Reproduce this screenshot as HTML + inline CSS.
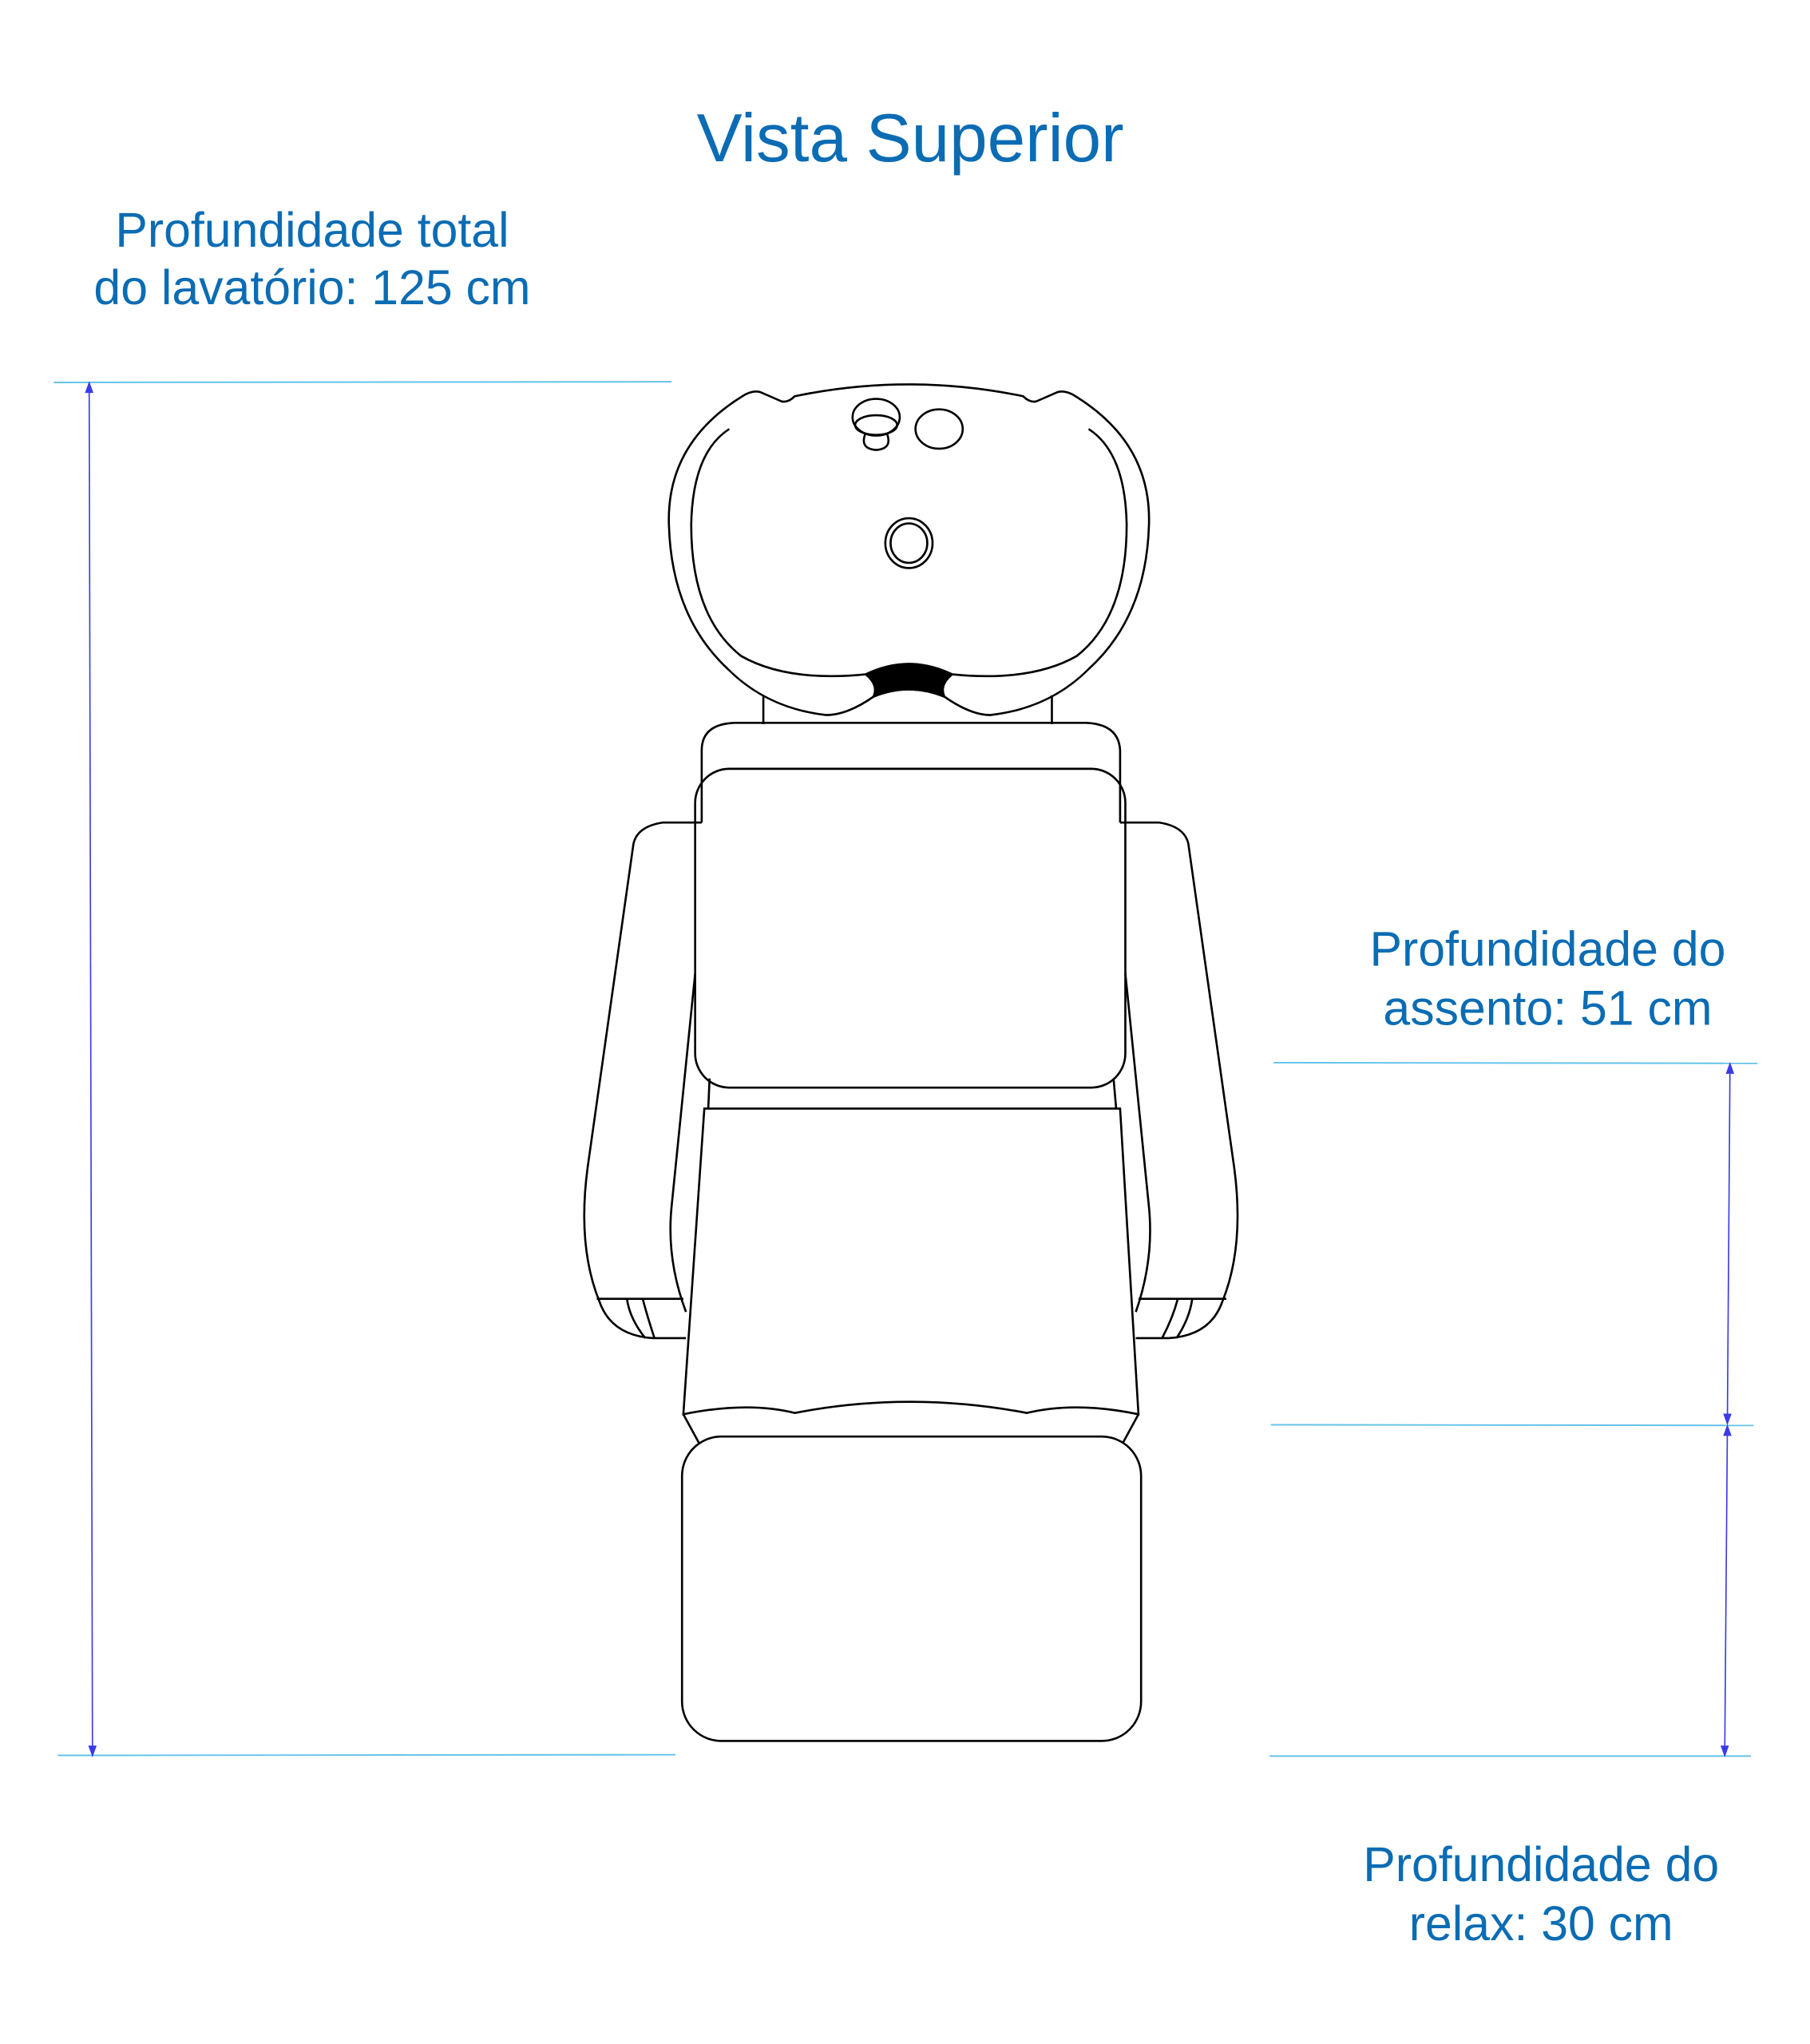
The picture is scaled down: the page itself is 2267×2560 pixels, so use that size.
<!DOCTYPE html>
<html><head><meta charset="utf-8"><style>html,body{margin:0;padding:0;background:#fff}svg{display:block}</style></head>
<body>
<svg width="2267" height="2560" viewBox="0 0 1380 1558" preserveAspectRatio="none" xmlns="http://www.w3.org/2000/svg">
<g font-family="Liberation Sans, sans-serif" fill="#0b6cb3" text-anchor="middle">
<text x="694" y="123" font-size="52">Vista Superior</text>
<text x="238" y="188" font-size="37">Profundidade total</text>
<text x="238" y="232" font-size="37">do lavatório: 125 cm</text>
<text x="1180" y="736" font-size="37">Profundidade do</text>
<text x="1180" y="781" font-size="37">assento: 51 cm</text>
<text x="1175" y="1434" font-size="37">Profundidade do</text>
<text x="1175" y="1479" font-size="37">relax: 30 cm</text>
</g>
<g stroke="#63c3ea" stroke-width="1.2">
<line x1="41" y1="291.5" x2="512" y2="291"/>
<line x1="44" y1="1338" x2="515" y2="1337.5"/>
<line x1="971" y1="810" x2="1340" y2="810.5"/>
<line x1="969" y1="1086" x2="1337" y2="1086.5"/>
<line x1="968" y1="1338.5" x2="1335" y2="1338.5"/>
</g>
<g stroke="#3b3be6" stroke-width="1" fill="#3b3be6">
<line x1="68" y1="294" x2="70.5" y2="1336"/>
<path d="M68 292 L65.5 299 L70.5 299Z"/><path d="M70.5 1338 L68 1331 L73 1331Z"/>
<line x1="1319" y1="813" x2="1317" y2="1084"/>
<path d="M1319 811 L1316.5 818 L1321.5 818Z"/><path d="M1317 1085 L1314.5 1078 L1319.5 1078Z"/>
<line x1="1317" y1="1089" x2="1315" y2="1336"/>
<path d="M1317 1087 L1314.5 1094 L1319.5 1094Z"/><path d="M1315 1338 L1312.5 1331 L1317.5 1331Z"/>
</g>
<g fill="none" stroke="#000" stroke-width="1.6">
<path d="M606 302 Q693 284 780 302 Q785 307 790 306 L806 299 Q812 297 820 302 Q878 338 876 400 Q874 470 830 510 Q800 540 755 545 Q740 545 720 531 Q693 520 666 531 Q646 545 630 545 Q585 540 555 510 Q512 470 510 400 Q508 338 566 302 Q574 297 580 299 L596 306 Q601 307 606 302Z"/>
<path d="M556 327 Q528 345 527 400 Q527 470 565 500 Q600 520 660 514"/>
<path d="M830 327 Q858 345 859 400 Q859 470 821 500 Q786 520 726 514"/>
<path d="M660 514 Q693 498 726 514 Q716 522 720 531 Q693 520 666 531 Q670 522 660 514Z" fill="#000"/>
<ellipse cx="668" cy="318" rx="18" ry="14"/>
<ellipse cx="668" cy="324" rx="16" ry="7.5"/>
<path d="M660 330 Q655 342 668 343 Q681 342 676 330"/>
<ellipse cx="716" cy="327" rx="18" ry="15"/>
<ellipse cx="693" cy="414" rx="18" ry="19"/>
<ellipse cx="693" cy="414" rx="14" ry="15"/>
<line x1="582" y1="530" x2="582" y2="552"/>
<line x1="802" y1="530" x2="802" y2="552"/>
<path d="M535 627 L535 572 Q535 552 560 551 L828 551 Q853 552 854 572 L854 627"/>
<rect x="530" y="586" width="328" height="243" rx="26"/>
<line x1="541" y1="822" x2="540" y2="845"/><line x1="849" y1="822" x2="851" y2="845"/>
<path d="M535 627 L505 627 Q486 630 483 643 L448 890 Q440 950 457 992 Q466 1018 498 1020 L523 1020"/>
<path d="M530 742 L512 920 Q508 960 523 1000"/>
<line x1="455" y1="990" x2="521" y2="990"/>
<path d="M478 990 Q480 1005 492 1020"/><path d="M490 990 Q494 1005 499 1020"/>
<path d="M854 627 L884 627 Q903 630 906 643 L941 890 Q949 950 932 992 Q923 1018 891 1020 L866 1020"/>
<path d="M858 742 L876 920 Q880 960 866 1000"/>
<line x1="868" y1="990" x2="935" y2="990"/>
<path d="M909 990 Q907 1005 897 1020"/><path d="M898 990 Q894 1005 886 1020"/>
<path d="M537 845 L854 845 L868 1078 Q820 1068 783 1077 Q693 1060 606 1077 Q570 1068 521 1078Z"/>
<line x1="521" y1="1078" x2="533" y2="1100"/><line x1="868" y1="1078" x2="856" y2="1100"/>
<rect x="520" y="1095" width="350" height="232" rx="30"/>
</g>
</svg>
</body></html>
